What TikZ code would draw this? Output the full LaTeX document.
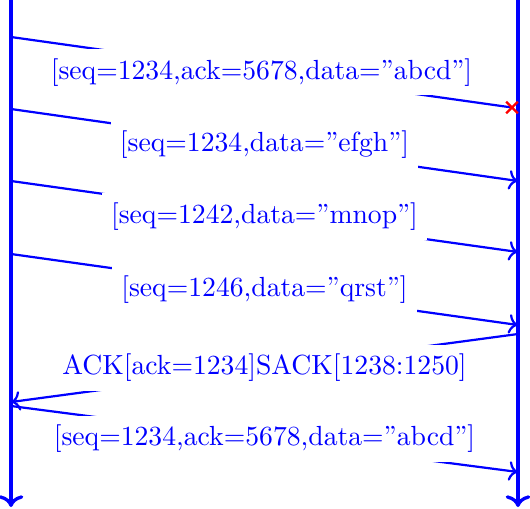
\documentclass[tikz,border=0pt]{standalone}
\usepackage{tikz}
\usetikzlibrary{arrows.meta, shapes.misc}

\begin{document}
\begin{tikzpicture}[
    x=0.3614pt, y=-0.3614pt,
    lifeline/.style={draw=blue, very thick, ->},
    msg/.style={draw=blue, thick, ->},
    lostmsg/.style={draw=blue, thick},
    lbl/.style={fill=white, text=blue, font=\normalsize},
    lostmark/.style={cross out, draw=red, thick, inner sep=0pt, minimum size=3.4pt}
]
    \useasboundingbox (0,0) rectangle (530,508);

    % Lifelines
    \coordinate (cltop) at (11,0);
    \coordinate (clbot) at (11,507);
    \coordinate (crtop) at (518,0);
    \coordinate (crbot) at (518,507);
    \draw[lifeline] (cltop) -- (clbot);
    \draw[lifeline] (crtop) -- (crbot);

    % Endpoints of the segments
    \coordinate (s1) at (11,37);   \coordinate (r1) at (512,107.5);
    \coordinate (s2) at (11,109);  \coordinate (r2) at (518,181);
    \coordinate (s3) at (11,181);  \coordinate (r3) at (518,252);
    \coordinate (s4) at (11,254);  \coordinate (r4) at (518,325);
    \coordinate (s5) at (518,334); \coordinate (r5) at (11,402);
    \coordinate (s6) at (11,406);  \coordinate (r6) at (518,472);

    % First segment is lost
    \draw[lostmsg] (s1) -- node[lbl] {[seq=1234,ack=5678,data=''abcd'']} (r1);
    \node[lostmark] (lost) at (r1) {};

    \draw[msg] (s2) -- node[lbl] {[seq=1234,data=''efgh'']} (r2);
    \draw[msg] (s3) -- node[lbl] {[seq=1242,data=''mnop'']} (r3);
    \draw[msg] (s4) -- node[lbl] {[seq=1246,data=''qrst'']} (r4);

    % Selective ACK, then retransmission
    \draw[msg] (s5) -- node[lbl] {ACK[ack=1234]SACK[1238:1250]} (r5);
    \draw[msg] (s6) -- node[lbl] {[seq=1234,ack=5678,data=''abcd'']} (r6);

\end{tikzpicture}
\end{document}
